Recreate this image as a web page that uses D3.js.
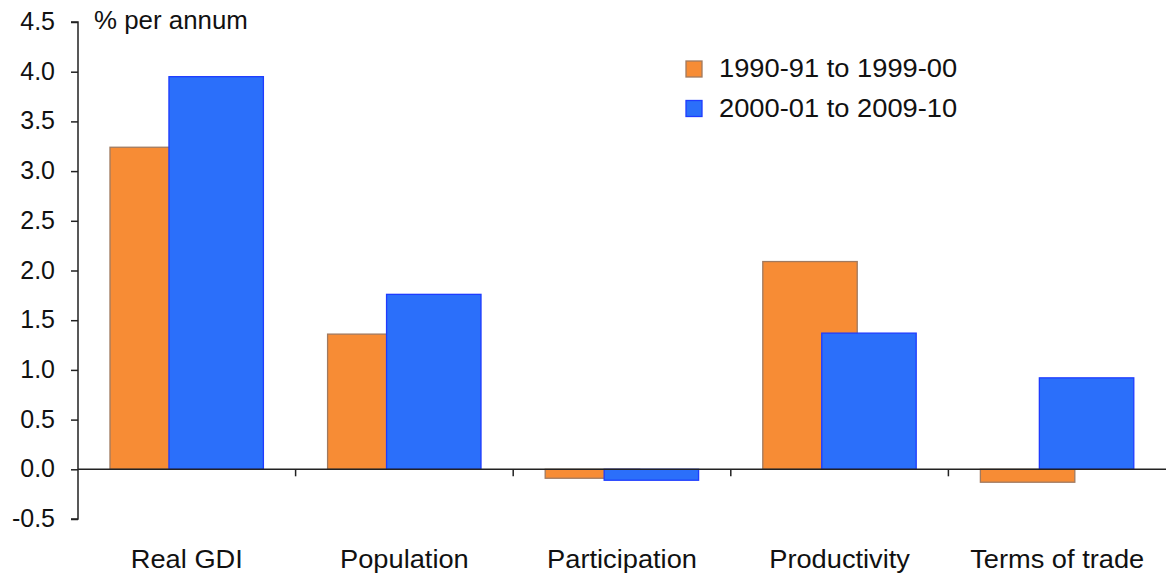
<!DOCTYPE html>
<html><head><meta charset="utf-8">
<script src="https://cdn.jsdelivr.net/npm/d3@7"></script>
<style>body{margin:0;background:#fff}svg{display:block}text{font-family:Arial,"Liberation Sans",sans-serif;fill:#111}</style>
</head><body><svg id="c" width="1166" height="576"></svg>
<script>
const categories = ["Real GDI","Population","Participation","Productivity","Terms of trade"];
const seriesNames = ["1990-91 to 1999-00","2000-01 to 2009-10"];
const series1990s = [3.24, 1.36, -0.09, 2.09, -0.13];
const series2000s = [3.95, 1.76, -0.11, 1.37, 0.92];
const yTicks = [-0.5,0,0.5,1,1.5,2,2.5,3,3.5,4,4.5];
const colors = ["#F78C35","#2B6FFA"];
const strokes = ["#A07A60","#1E3CFF"];

const svg = d3.select("#c");
const x = d3.scaleBand().domain(categories).range([78,1166]).paddingInner(0).paddingOuter(0);
const y = d3.scaleLinear().domain([-0.5,4.5]).range([519,22]);
const bw = x.bandwidth();
const barW = bw*0.434, off1 = bw*0.147, off2 = bw*0.418;

const data = [series1990s, series2000s];
data.forEach((vals,si)=>{
  svg.append("g").selectAll("rect").data(categories).join("rect")
    .attr("x", (d)=>x(d)+(si===0?off1:off2))
    .attr("width", barW)
    .attr("y", (d,i)=>y(Math.max(0,vals[i])))
    .attr("height", (d,i)=>Math.abs(y(vals[i])-y(0)))
    .attr("fill", colors[si]).attr("stroke", strokes[si]).attr("stroke-width",1.3);
});

// y axis
const fmt = v => d3.format(".1f")(v).replace("\u2212","-");
const ya = svg.append("g").attr("transform","translate(78,0)")
  .call(d3.axisLeft(y).tickValues(yTicks).tickSize(7).tickPadding(16).tickFormat(fmt));
ya.select(".domain").attr("stroke","#222").attr("stroke-width",1.5).attr("d","M-7,"+y(4.5)+"H0V"+y(-0.5)+"H-7");
ya.selectAll(".tick line").attr("stroke","#222").attr("stroke-width",1.5);
ya.selectAll(".tick text").attr("font-size",25).attr("fill","#111").attr("font-family","Arial, 'Liberation Sans', sans-serif").attr("dy","0.3em");

// x axis at zero
const xa = svg.append("g").attr("transform","translate(0,"+y(0)+")");
xa.append("line").attr("x1",78).attr("x2",1166).attr("y1",0).attr("y2",0).attr("stroke","#222").attr("stroke-width",1.5);
xa.selectAll("line.t").data(categories.slice(1)).join("line").attr("class","t")
  .attr("x1",d=>x(d)).attr("x2",d=>x(d)).attr("y1",0).attr("y2",7).attr("stroke","#222").attr("stroke-width",1.5);

svg.append("g").selectAll("text").data(categories).join("text")
  .attr("transform",d=>"translate("+(x(d)+bw/2)+",568) scale(1.09,1)")
  .attr("text-anchor","middle").attr("font-size",25).text(d=>d);

svg.append("text").attr("transform","translate(94,29) scale(1.035,1)").attr("font-size",25).text("% per annum");

// legend
const leg = svg.append("g");
seriesNames.forEach((n,i)=>{
  leg.append("rect").attr("x",686).attr("y",61+i*39.5).attr("width",16).attr("height",16)
    .attr("fill",colors[i]).attr("stroke",strokes[i]).attr("stroke-width",1.3);
  leg.append("text").attr("transform","translate(719,"+(77+i*39.5)+") scale(1.05,1)").attr("font-size",26).text(n);
});
</script></body></html>
